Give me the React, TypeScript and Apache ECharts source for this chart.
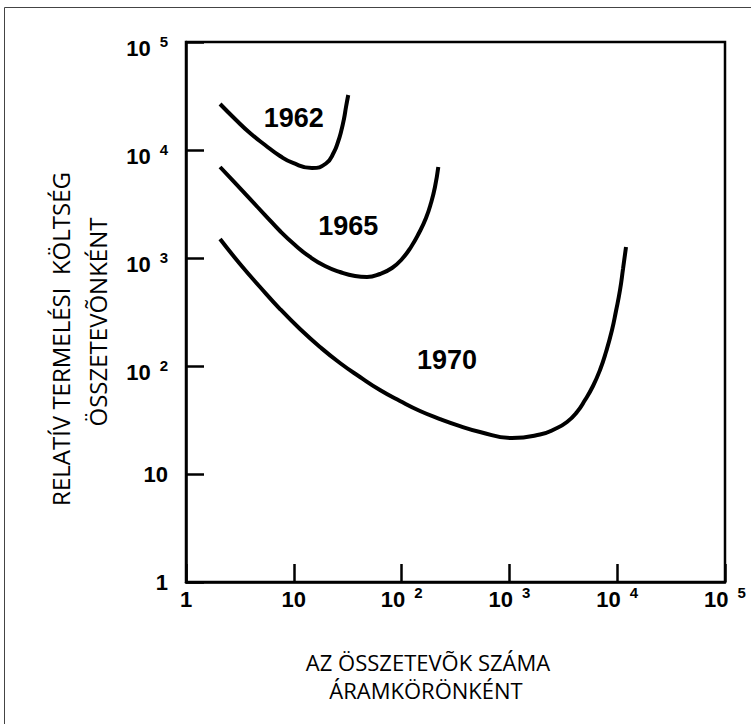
import React, { useEffect, useRef } from "react";
import * as echarts from "echarts";

// Curves (x = components per circuit, y = relative manufacturing cost per component)
const curve1962X = [2.07, 2.85, 3.92, 5.41, 7.45, 9.83, 14.75, 19.89, 23.6, 25.7, 27.4, 29.2, 30.5, 32.0];
const curve1962Y = [26660, 19360, 14360, 11130, 8790, 7580, 6810, 7500, 9580, 11860, 14680, 19360, 25010, 32310];
const curve1965X = [2.07, 2.85, 3.92, 5.41, 7.45, 10.26, 14.14, 19.47, 26.8, 36.97, 47.8, 63.0, 81.5, 100.9, 122.3, 145, 168.4, 187.4, 204, 219];
const curve1965Y = [6960, 4950, 3520, 2500, 1778, 1319, 1022, 843, 742, 681, 667, 711, 808, 979, 1264, 1704, 2346, 3231, 4544, 6960];
const curve1970X = [2.07, 3.17, 4.86, 7.45, 11.42, 17.5, 26.8, 41.1, 63.0, 96.6, 148.2, 227, 348, 534, 1057, 1922, 2649, 3422, 4238, 5028, 5964, 6925, 7873, 8950, 9748, 10620, 11320, 12070];
const curve1970Y = [1499, 880, 539, 337, 220, 150, 106.6, 79.1, 59.9, 47.4, 38.3, 32.3, 27.8, 24.5, 21.5, 23.2, 26.1, 30.3, 37.5, 48.4, 65.3, 91.8, 134.8, 215, 323, 505, 791, 1264];

const yearLabels = ["1962", "1965", "1970"];
const yearLabelX = [10, 32, 264];
const yearLabelY = [19700, 1990, 114];

const xTitle = ["AZ ÖSSZETEVÕK SZÁMA", "ÁRAMKÖRÖNKÉNT"];
const yTitle = ["RELATÍV TERMELÉSI  KÖLTSÉG", "ÖSSZETEVÕNKÉNT"];

const zip = (xs: number[], ys: number[]) => xs.map((x, i) => [x, ys[i]]);

const LABEL_FONT = "'Liberation Sans', Arial, sans-serif";
const TITLE_FONT = "'Open Sans', 'Noto Sans', sans-serif";

const expOf = (v: number) => Math.round(Math.log10(v));

const richBase = {
  m: { fontSize: 22, fontWeight: "bold", fontFamily: LABEL_FONT, color: "#000", lineHeight: 22, padding: [12, 0, 0, 0], verticalAlign: "middle" },
  p: { fontSize: 22, fontWeight: "bold", fontFamily: LABEL_FONT, color: "#000", lineHeight: 22, padding: [12, 0, 0, 0], verticalAlign: "middle" },
  s: { fontSize: 15, fontWeight: "bold", fontFamily: LABEL_FONT, color: "#000", lineHeight: 15, padding: [0, 0, 2, 9], verticalAlign: "middle" },
};

export default function App() {
  const ref = useRef<HTMLDivElement>(null);
  useEffect(() => {
    if (!ref.current) return;
    const chart = echarts.init(ref.current, undefined, { renderer: "svg" });
    const lineSeries = (name: string, xs: number[], ys: number[]) => ({
      name,
      type: "line",
      data: zip(xs, ys),
      symbol: "none",
      smooth: 0.5,
      lineStyle: { color: "#000", width: 4 },
      silent: true,
    });
    chart.setOption({
      animation: false,
      backgroundColor: "#fff",
      grid: { left: 186, top: 42, right: 26, bottom: 142, show: true, borderColor: "#000", borderWidth: 2.5, containLabel: false },
      xAxis: {
        type: "log",
        logBase: 10,
        min: 1,
        max: 100000,
        splitNumber: 5,
        axisLine: { show: true, lineStyle: { color: "#000", width: 2.5 } },
        axisTick: { show: true, inside: true, length: 18, lineStyle: { color: "#000", width: 2.5 } },
        splitLine: { show: false },
        minorTick: { show: false },
        axisLabel: {
          margin: 0,
          fontSize: 22,
          fontWeight: "bold",
          fontFamily: LABEL_FONT,
          color: "#000",
          formatter: (v: number) => {
            const e = expOf(v);
            if (e === 0) return "{p|1}";
            if (e === 1) return "{p|10}";
            return "{m|10}{s|" + e + "}";
          },
          rich: richBase,
        },
      },
      yAxis: {
        type: "log",
        logBase: 10,
        min: 1,
        max: 100000,
        splitNumber: 5,
        axisLine: { show: true, lineStyle: { color: "#000", width: 2.5 } },
        axisTick: { show: true, inside: true, length: 18, lineStyle: { color: "#000", width: 2.5 } },
        splitLine: { show: false },
        minorTick: { show: false },
        axisLabel: {
          margin: 18,
          fontSize: 22,
          fontWeight: "bold",
          fontFamily: LABEL_FONT,
          color: "#000",
          formatter: (v: number) => {
            const e = expOf(v);
            if (e === 0) return "1";
            if (e === 1) return "10";
            return "{m|10}{s|" + e + "}";
          },
          rich: richBase,
        },
      },
      series: [
        lineSeries("1962", curve1962X, curve1962Y),
        lineSeries("1965", curve1965X, curve1965Y),
        lineSeries("1970", curve1970X, curve1970Y),
        {
          type: "scatter",
          symbolSize: 0,
          silent: true,
          itemStyle: { opacity: 1 },
          data: yearLabels.map((t, i) => [yearLabelX[i], yearLabelY[i], t]),
          label: {
            show: true,
            position: "inside",
            formatter: (p: any) => p.data[2],
            fontSize: 27,
            fontWeight: "bold",
            fontFamily: LABEL_FONT,
            color: "#000",
            opacity: 1,
          },
        },
      ],
      graphic: [
        {
          type: "rect",
          silent: true,
          shape: { x: 4.5, y: 7.5, width: 1000, height: 1000 },
          style: { fill: "none", stroke: "#444", lineWidth: 1 },
        },
        {
          type: "text",
          x: 428,
          y: 662,
          style: { text: xTitle[0], fontSize: 22, fontFamily: TITLE_FONT, fill: "#000", align: "center", verticalAlign: "middle" },
        },
        {
          type: "text",
          x: 426,
          y: 689.5,
          style: { text: xTitle[1], fontSize: 22, fontFamily: TITLE_FONT, fill: "#000", align: "center", verticalAlign: "middle" },
        },
        {
          type: "text",
          x: 60,
          y: 339,
          rotation: Math.PI / 2,
          style: { text: yTitle[0], fontSize: 24, fontFamily: TITLE_FONT, fill: "#000", align: "center", verticalAlign: "middle" },
        },
        {
          type: "text",
          x: 97,
          y: 322,
          rotation: Math.PI / 2,
          style: { text: yTitle[1], fontSize: 24, fontFamily: TITLE_FONT, fill: "#000", align: "center", verticalAlign: "middle" },
        },
      ],
    });
    return () => chart.dispose();
  }, []);
  return (
    <div
      ref={ref}
      style={{ position: "fixed", left: 0, top: 0, width: 751, height: 724, background: "#fff" }}
    />
  );
}
